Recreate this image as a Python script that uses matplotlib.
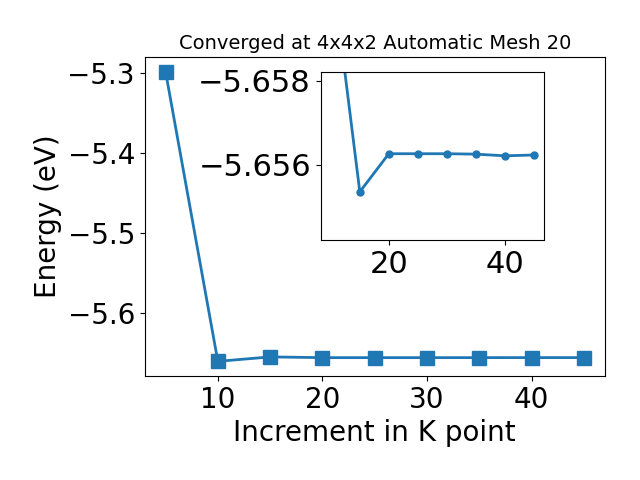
import matplotlib
matplotlib.use("Agg")
import matplotlib.pyplot as plt

# k-point increment and total energy (eV)
kpoints = [5, 10, 15, 20, 25, 30, 35, 40, 45]
energy = [-5.2988, -5.6609, -5.65535, -5.65626, -5.65626, -5.65626, -5.65625,
          -5.65621, -5.65623]

inset_yticks = [-5.658, -5.656]

fig = plt.figure(figsize=(6.4, 4.8), dpi=100)
ax = fig.add_axes([0.226, 0.217, 0.719, 0.664])
ax.plot(kpoints, energy, marker="s", markersize=10, linewidth=2, color="#1f77b4")
ax.set_xlabel("Increment in K point", fontsize=20)
ax.set_ylabel("Energy (eV)", fontsize=20)
ax.set_title("Converged at 4x4x2 Automatic Mesh 20", fontsize=14)
ax.tick_params(labelsize=20)

# zoomed view of the converged region
axin = fig.add_axes([0.501, 0.5, 0.349, 0.349])
axin.plot(kpoints[1:], energy[1:], marker="o", markersize=5, linewidth=2, color="#1f77b4")
axin.set_ylim(-5.6542, -5.6582)
axin.set_yticks(inset_yticks)
axin.tick_params(labelsize=22)

fig.savefig("out.png", dpi=100)
